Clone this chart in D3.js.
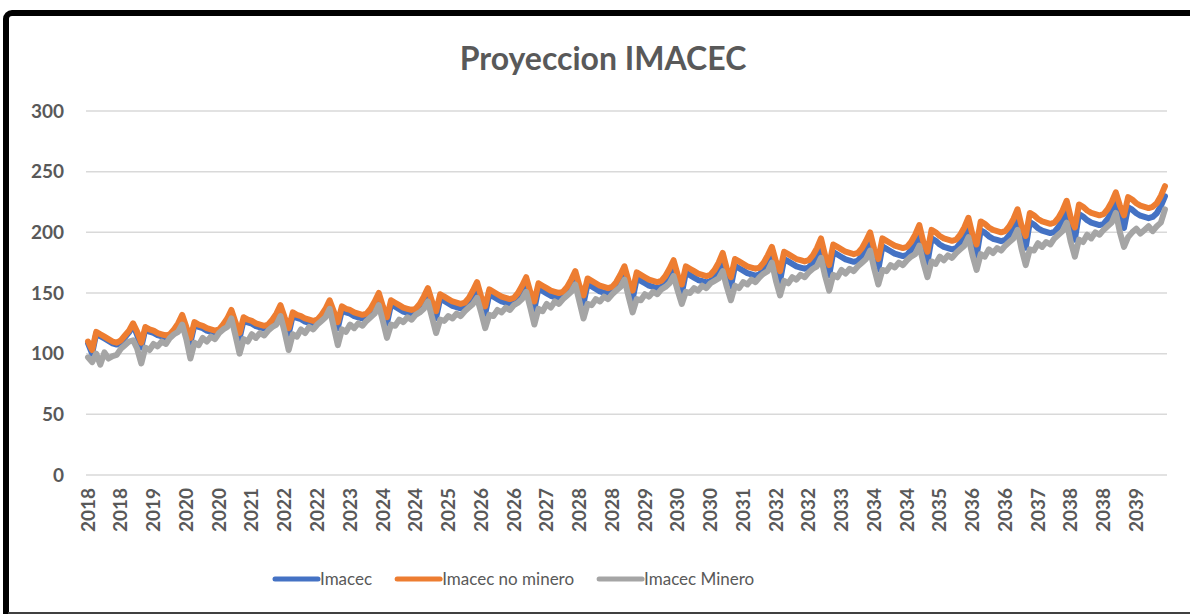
<!DOCTYPE html>
<html lang="es">
<head>
<meta charset="UTF-8">
<title>Proyeccion IMACEC</title>
<script src="https://cdnjs.cloudflare.com/ajax/libs/d3/7.8.5/d3.min.js"></script>
<style>
  html, body { margin: 0; padding: 0; background: #fff; }
  svg { display: block; font-family: Lato, "Open Sans", sans-serif; }
  .grid line { stroke: #d9d9d9; stroke-width: 1.5px; }
  .tick-label { fill: #595959; font-weight: 700; }
  .legend text { fill: #595959; font-size: 17px; }
</style>
</head>
<body>
<script>
// mensual, ene 2018 - dic 2039
var years = d3.range(2018, 2040);
var yTicks = [0, 50, 100, 150, 200, 250, 300];

var imacec = [
  108.5,100,116.5,114.5,112.5,110.5,108.5,107.5,109.5,113.5,117.5,123.5,
  115.2,105.2,120.2,118.2,117.2,115.2,114.2,113.2,114.2,118.2,123.2,130.2,
  119,109,124,122,121,119,118,117,118,122,127,134,
  122.7,112.7,127.7,125.7,124.7,122.7,121.7,120.7,121.7,125.7,130.7,137.7,
  126.4,116.4,131.4,129.4,128.4,126.4,125.4,124.4,125.4,129.4,134.4,141.4,
  131,121,136,134,133,131,130,129,130,134,140,147,
  134.7,124.7,140.7,138.7,136.7,134.7,133.7,132.7,133.7,137.7,143.7,150.7,
  138.4,129.4,145.4,143.4,141.4,139.4,138.4,137.4,138.4,142.4,148.4,155.4,
  142,133,149,147,145,143,142,141,142,146,152,159,
  146.7,136.7,153.7,151.7,149.7,147.7,146.7,145.7,146.7,150.7,156.7,163.7,
  151.4,141.4,157.4,155.4,153.4,151.4,150.4,149.4,150.4,154.4,160.4,167.4,
  155,145,162,160,158,156,155,154,155,159,165,172,
  159.7,149.7,166.7,164.7,162.7,160.7,159.7,158.7,159.7,163.7,169.7,177.7,
  164.4,155.4,172.4,170.4,168.4,166.4,165.4,164.4,165.4,169.4,175.4,182.4,
  170,160,178,176,174,172,171,170,171,175,181,189,
  174.7,164.7,183.7,181.7,179.7,177.7,176.7,175.7,176.7,180.7,186.7,193.7,
  179.4,169.4,188.4,186.4,184.4,182.4,181.4,180.4,181.4,185.4,191.4,199.4,
  185,175,195,193,190,188,187,186,187,191,197,205,
  190.7,180.7,201.7,199.7,196.7,194.7,193.7,192.7,193.7,197.7,203.7,211.7,
  197.4,187.4,208.4,206.4,203.4,201.4,200.4,199.4,200.4,204.4,210.4,218.4,
  204,194,215,213,210,208,207,206,207,211,217,225,
  212.7,203.7,220.7,218.7,215.7,213.7,212.7,211.7,212.7,215.7,221.7,229.7
];

var noMinero = [
  110,103,118,116,114,112,110,109,111,115,119,125,
  118,109,122,120,119,117,116,115,116,120,125,132,
  122,113,126,124,123,121,120,119,120,124,129,136,
  126,117,130,128,127,125,124,123,124,128,133,140,
  130,121,134,132,131,129,128,127,128,132,137,144,
  135,126,139,137,136,134,133,132,133,137,143,150,
  139,130,144,142,140,138,137,136,137,141,147,154,
  143,135,149,147,145,143,142,141,142,146,152,159,
  147,139,153,151,149,147,146,145,146,150,156,163,
  151,143,158,156,154,152,151,150,151,155,161,168,
  156,148,162,160,158,156,155,154,155,159,165,172,
  160,152,167,165,163,161,160,159,160,164,170,177,
  165,157,172,170,168,166,165,164,165,169,175,183,
  170,163,178,176,174,172,171,170,171,175,181,188,
  176,168,184,182,180,178,177,176,177,181,187,195,
  181,173,190,188,186,184,183,182,183,187,193,200,
  186,178,195,193,191,189,188,187,188,192,198,206,
  192,184,202,200,197,195,194,193,194,198,204,212,
  198,190,209,207,204,202,201,200,201,205,211,219,
  205,197,216,214,211,209,208,207,208,212,218,226,
  212,204,223,221,218,216,215,214,215,219,225,233,
  222,214,229,227,224,222,221,220,221,224,230,238
];

var minero = [
  97,93,100,91,101,96,98,99,104,107,110,111,
  104,92,105,103,108,106,110,108,113,116,118,124,
  112,96,109,107,113,110,114,112,117,120,122,129,
  115,100,112,110,116,113,117,115,119,122,124,131,
  118,103,116,114,120,117,122,120,124,127,130,137,
  122,107,120,118,124,121,125,123,127,130,133,140,
  127,113,124,123,128,126,130,128,132,134,137,143,
  130,117,128,127,131,129,133,131,135,138,141,146,
  134,121,132,131,136,134,138,136,140,142,145,151,
  138,124,137,135,141,138,143,141,145,148,151,157,
  143,129,141,140,145,143,147,145,149,152,155,161,
  147,134,145,144,149,147,151,149,153,155,158,164,
  152,141,151,150,154,152,156,154,158,160,162,168,
  155,144,156,154,159,157,161,159,163,166,168,175,
  160,148,160,158,163,161,165,163,167,170,172,179,
  164,152,165,163,169,166,170,168,172,175,178,185,
  170,157,169,168,173,171,175,173,177,180,182,189,
  175,163,176,174,180,177,181,179,183,186,189,196,
  181,169,182,180,186,183,187,185,189,192,195,202,
  186,173,186,185,191,188,192,190,195,198,201,208,
  192,180,194,192,198,195,200,198,202,205,208,216,
  200,188,196,200,203,199,202,205,201,205,208,219
];

var series = [
  { name: 'Imacec',           values: imacec,   color: '#4472C4' },
  { name: 'Imacec no minero', values: noMinero, color: '#ED7D31' },
  { name: 'Imacec Minero',    values: minero,   color: '#A5A5A5' }
];

// categorias: una por mes
var months = [];
years.forEach(function(y){
  for (var m = 1; m <= 12; m++) months.push({ key: y + '-' + (m < 10 ? '0' + m : m), year: y });
});

var width = 1190, height = 614;
var svg = d3.select('body').append('svg')
  .attr('width', width)
  .attr('height', height);

// marco
svg.append('rect')
  .attr('x', 6).attr('y', 13)
  .attr('width', 1200).attr('height', 640)
  .attr('rx', 6)
  .attr('fill', '#fff')
  .attr('stroke', '#000')
  .attr('stroke-width', 6);
svg.append('line')
  .attr('x1', 8).attr('x2', width)
  .attr('y1', 613).attr('y2', 613)
  .attr('stroke', '#404040').attr('stroke-width', 2);

var x = d3.scaleBand()
  .domain(months.map(function(d){ return d.key; }))
  .range([86, 1167]);

var y = d3.scaleLinear()
  .domain([0, 300])
  .range([475, 111]);

svg.append('text')
  .attr('x', 603).attr('y', 70)
  .attr('text-anchor', 'middle')
  .attr('fill', '#595959')
  .style('font-size', '32px')
  .style('font-weight', 700)
  .text('Proyeccion IMACEC');

// grilla horizontal
svg.append('g').attr('class', 'grid')
  .selectAll('line')
  .data(yTicks)
  .enter().append('line')
  .attr('x1', 86).attr('x2', 1167)
  .attr('y1', function(d){ return y(d); })
  .attr('y2', function(d){ return y(d); });

svg.append('g')
  .selectAll('text')
  .data(yTicks)
  .enter().append('text')
  .attr('class', 'tick-label')
  .attr('x', 64)
  .attr('y', function(d){ return y(d); })
  .attr('dy', '0.35em')
  .attr('text-anchor', 'end')
  .style('font-size', '19px')
  .text(function(d){ return d; });

// etiquetas eje x cada 8 meses
var xTicks = months.filter(function(d, i){ return i % 8 === 0; });
svg.append('g')
  .selectAll('text')
  .data(xTicks)
  .enter().append('text')
  .attr('class', 'tick-label')
  .attr('transform', function(d){
    return 'translate(' + (x(d.key) + x.bandwidth() / 2) + ',488) rotate(-90)';
  })
  .attr('dy', '0.35em')
  .attr('text-anchor', 'end')
  .style('font-size', '19px')
  .text(function(d){ return d.year; });

var line = d3.line()
  .x(function(d, i){ return x(months[i].key) + x.bandwidth() / 2; })
  .y(function(d){ return y(d); });

svg.append('g')
  .selectAll('path')
  .data(series)
  .enter().append('path')
  .attr('d', function(s){ return line(s.values); })
  .attr('fill', 'none')
  .attr('stroke', function(s){ return s.color; })
  .attr('stroke-width', 6)
  .attr('stroke-linejoin', 'round')
  .attr('stroke-linecap', 'round');

// leyenda
var legend = svg.append('g').attr('class', 'legend');
var lx = 275;
series.forEach(function(s){
  legend.append('line')
    .attr('x1', lx).attr('x2', lx + 43)
    .attr('y1', 579).attr('y2', 579)
    .attr('stroke', s.color)
    .attr('stroke-width', 5)
    .attr('stroke-linecap', 'round');
  var t = legend.append('text')
    .attr('x', lx + 45).attr('y', 579)
    .attr('dy', '0.35em')
    .text(s.name);
  lx += 45 + t.node().getComputedTextLength() + 25;
});
</script>
</body>
</html>
